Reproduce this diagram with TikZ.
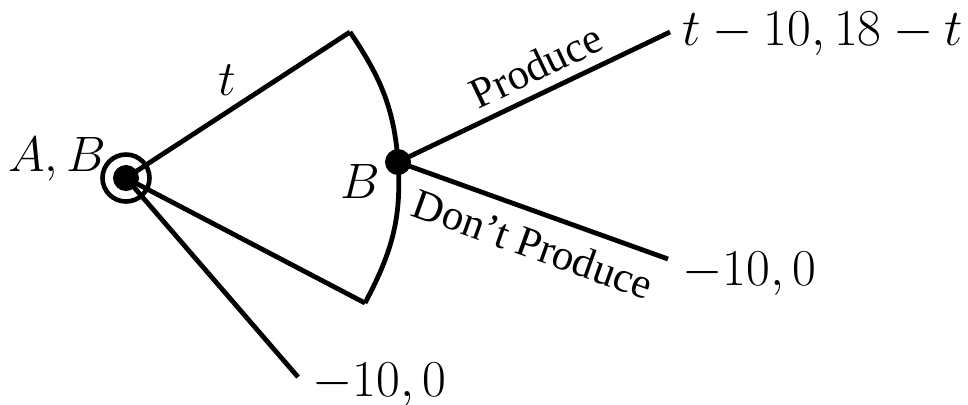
\documentclass[tikz,border=0pt]{standalone}
\usepackage[no-math]{fontspec}
\newfontfamily\movefont{Liberation Serif}
\usetikzlibrary{positioning}

\begin{document}
\begin{tikzpicture}[
    x=0.5pt, y=-0.5pt,
    font=\fontsize{24}{29}\selectfont,
    dot/.style={circle, fill=black, inner sep=0pt, minimum size=13pt},
    ring/.style={circle, draw, line width=2.3pt, inner sep=0pt, minimum size=23.5pt},
    branch/.style={line width=2.4pt},
    move/.style={font=\movefont\fontsize{21.5}{26}\selectfont, sloped},
    payoff/.style={inner sep=0pt, scale=1.04},
]
    \useasboundingbox (0,0) rectangle (968,404);

    % decision nodes
    \node[dot] (root) at (126,178) {};
    \node[ring] (rootring) at (root) {};
    \node[dot] (b) at (398,162) {};

    % ends of the branches
    \coordinate (setTop) at (350,32);
    \coordinate (setBot) at (365,303);
    \coordinate (prodEnd) at (670,32);
    \coordinate (dontEnd) at (668,259);
    \coordinate (outEnd) at (298,377);

    % payoffs
    \node[payoff, right=6pt of prodEnd, yshift=-1pt] (prodPay) {$t-10, 18-t$};
    \node[payoff, right=7pt of dontEnd, yshift=-7pt] (dontPay) {$-10, 0$};
    \node[payoff, right=7pt of outEnd, yshift=-4pt] (outPay) {$-10, 0$};

    % players and choice
    \node (abLbl) at (57,159) {$A, B$};
    \node (bLbl) at (360,181) {$B$};
    \node (tLbl) at (227,80) {$t$};

    \draw[branch] (root.center) -- (setTop);
    \draw[branch] (root.center) -- (setBot);
    \draw[branch] (root.center) -- (outEnd);
    \draw[branch] (setTop) to[out=-56, in=94] (b.center) to[out=-86, in=62] (setBot);
    \draw[branch] (b.center) -- node[move, above, pos=0.55, inner sep=5pt] {Produce} (prodEnd);
    \draw[branch] (b.center) -- node[move, below, pos=0.54, inner sep=7pt] {Don’t Produce} (dontEnd);
\end{tikzpicture}
\end{document}
